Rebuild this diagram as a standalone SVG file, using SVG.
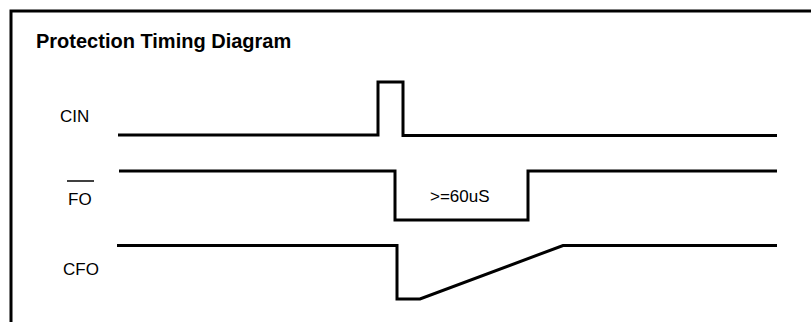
<svg xmlns="http://www.w3.org/2000/svg" width="811" height="322" viewBox="0 0 811 322">
<style>
.frame{fill:none;stroke:#000;stroke-width:3}
.sig{fill:none;stroke:#000;stroke-width:3;stroke-linejoin:miter;stroke-linecap:butt}
.title{font-family:"Liberation Sans",Arial,sans-serif;font-size:20px;font-weight:bold;fill:#000}
.lbl{font-family:"Liberation Sans",Arial,sans-serif;font-size:17px;fill:#000}
</style>
<rect width="811" height="322" fill="#fff"/>
<path class="frame" d="M11,330 L11,11 L815,11"/>
<text class="title" x="36" y="48">Protection Timing Diagram</text>
<g id="cin">
<text class="lbl" x="60" y="122">CIN</text>
</g>
<g id="fo">
<text class="lbl" x="68" y="205">FO</text>
<line x1="67" y1="181" x2="94" y2="181" stroke="#000" stroke-width="1.5"/>
</g>
<g id="cfo">
<text class="lbl" x="63" y="275">CFO</text>
</g>
<g id="waveforms">
<path class="sig" d="M118,135 L378,135 L378,82 L403,82 L403,135.5 L777,135.5"/>
<path class="sig" d="M119,171 L395,171 L395,220 L528,220 L528,171 L777,171"/>
<path class="sig" d="M117,245.5 L397,245.5 L397,299 L420,299 L563,245.5 L777,245.5"/>
<text class="lbl" x="430" y="202">&gt;=60uS</text>
</g>
</svg>
